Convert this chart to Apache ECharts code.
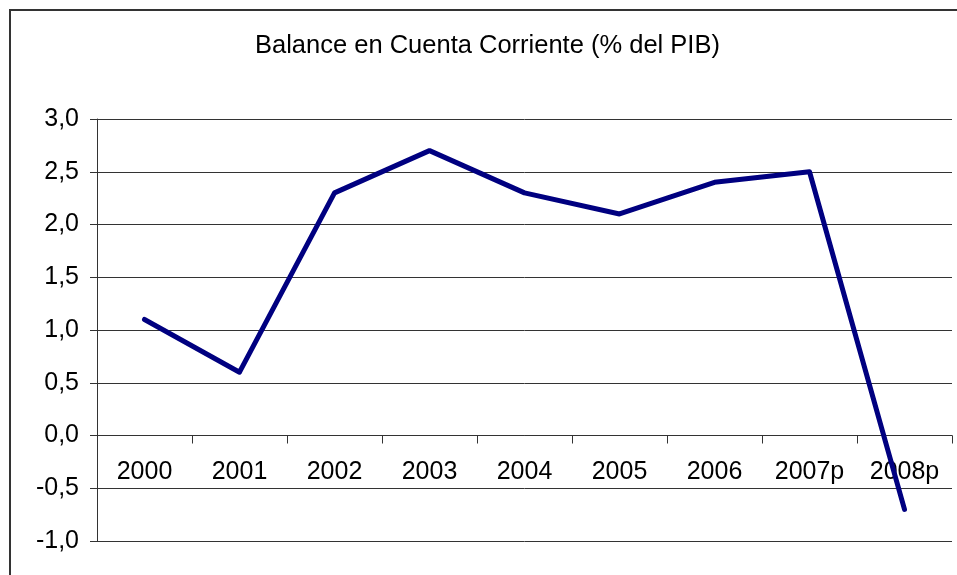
<!DOCTYPE html>
<html>
<head>
<meta charset="utf-8">
<script src="https://cdn.jsdelivr.net/npm/echarts@6/dist/echarts.min.js"></script>
<style>
  html, body { margin: 0; padding: 0; background: #fff; }
  #chart { width: 957px; height: 575px; }
</style>
</head>
<body>
<div id="chart"></div>
<script>
var years = ['2000', '2001', '2002', '2003', '2004', '2005', '2006', '2007p', '2008p'];
var balance = [1.1, 0.6, 2.3, 2.7, 2.3, 2.1, 2.4, 2.5, -0.7];
var yMin = -1, yMax = 3, yStep = 0.5;

var chart = echarts.init(document.getElementById('chart'));
var font = 'Arial, "Liberation Sans", sans-serif';

// grid geometry, used to put the category labels just under the zero line
var gridTop = 119, gridBottom = 34;
var plotH = 575 - gridTop - gridBottom;
var zeroShift = plotH * (0 - yMin) / (yMax - yMin);

var option = {
    backgroundColor: '#ffffff',
    animation: false,
    title: {
        text: 'Balance en Cuenta Corriente (% del PIB)',
        left: 255,
        top: 33,
        padding: 0,
        textStyle: { fontFamily: font, fontSize: 25.5, fontWeight: 'normal', color: '#000' }
    },
    graphic: [{
        type: 'rect',
        shape: { x: 10, y: 10, width: 1000, height: 1000 },
        style: { fill: 'none', stroke: '#333', lineWidth: 2 },
        silent: true
    }],
    grid: { left: 97, right: 5, top: gridTop, bottom: gridBottom, outerBoundsMode: 'none', containLabel: false },
    xAxis: [{
        type: 'category',
        data: years,
        boundaryGap: true,
        axisLine: { onZero: true, lineStyle: { color: '#333', width: 1 } },
        axisTick: { show: true, length: 8, lineStyle: { color: '#333' } },
        axisLabel: { show: false }
    }, {
        type: 'category',
        data: years,
        position: 'bottom',
        offset: -zeroShift,
        boundaryGap: true,
        axisLine: { show: false, onZero: false },
        axisTick: { show: false },
        axisLabel: { margin: 24, fontFamily: font, fontSize: 25, color: '#000' }
    }],
    yAxis: {
        type: 'value',
        min: yMin,
        max: yMax,
        interval: yStep,
        axisLine: { show: true, lineStyle: { color: '#333', width: 1 } },
        axisTick: { show: true, length: 7, lineStyle: { color: '#333' } },
        splitLine: { show: true, lineStyle: { color: '#333', width: 1 } },
        axisLabel: {
            margin: 18,
            fontFamily: font,
            fontSize: 25,
            color: '#000',
            formatter: function (v) { return v.toFixed(1).replace('.', ','); }
        }
    },
    series: [{
        type: 'line',
        data: balance,
        symbol: 'none',
        lineStyle: { color: '#000080', width: 5, cap: 'round', join: 'round' },
        itemStyle: { color: '#000080' }
    }]
};
chart.setOption(option);
</script>
</body>
</html>
